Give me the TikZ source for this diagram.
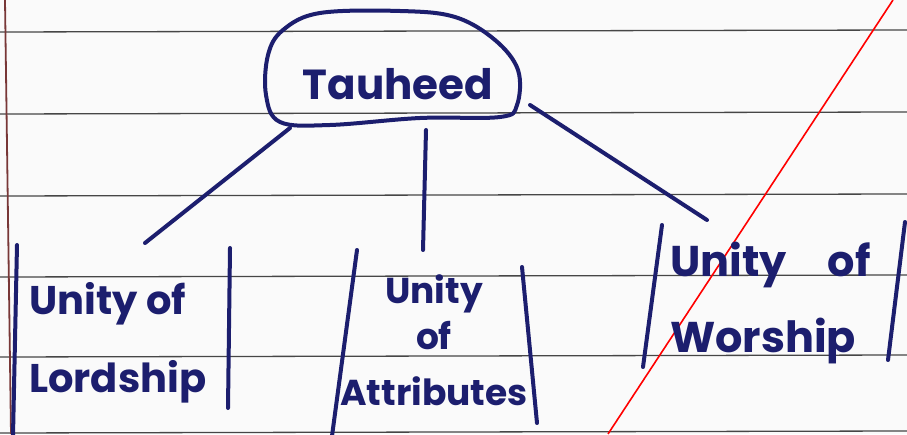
\documentclass[tikz,border=0pt]{standalone}
\usepackage{fontspec}
\setmainfont{Poppins}
\usetikzlibrary{positioning}
\definecolor{ink}{RGB}{28,30,110}
\definecolor{rule}{RGB}{70,70,70}
\definecolor{margin}{RGB}{120,55,55}
\definecolor{paper}{RGB}{250,250,250}
\tikzset{
  pen/.style={draw=ink, line width=4pt, line cap=round, line join=round},
  ruling/.style={draw=rule, line width=1.3pt},
  hand/.style={text=ink, inner sep=0pt, font=\bfseries},
}

\begin{document}
\begin{tikzpicture}[x=1pt,y=1pt]
  \fill[paper] (0,0) rectangle (907,434);
  \useasboundingbox (0,0) rectangle (907,434);
  \foreach \y/\z in {402/404, 320/322, 238/240, 157/159, 77/79, 1/3}
    \draw[ruling] (0,\y) -- (907,\z);
  \draw[margin, line width=1.8pt] (5,434) -- (11,0);
  \draw[red, line width=1.6pt] (608,0) -- (893,434);

  \node[hand, font=\bfseries\fontsize{42}{42}\selectfont] (tauheed) at (398,350) {Tauheed};
  \draw[pen] plot[smooth cycle, tension=0.6] coordinates {(283,404) (320,421) (400,423)
    (455,417) (495,394) (518,364) (517,329) (500,317) (420,316) (330,309) (280,312)
    (266,339) (268,379)};

  \node[hand, align=left, anchor=north west, font=\bfseries\fontsize{40}{78}\selectfont]
        (lordship) at (29,152) {Unity of\\Lordship};
  \node[hand, align=center, anchor=north, font=\bfseries\fontsize{36}{46}\selectfont]
        (attributes) at (434,160) {Unity\\of\\[10pt]Attributes};
  \node[hand, align=left, anchor=north west, font=\bfseries\fontsize{43}{76}\selectfont]
        (worship) at (670,192) {Unity\hspace{0.95em}of\\Worship};

  \coordinate (lordtop) at (145,191);
  \coordinate (attrtop) at (423,184);
  \coordinate (worstop) at (707,214);
  \draw[pen] ([shift={(-108,-44)}]tauheed.center) -- (lordtop);
  \draw[pen] ([shift={(28,-46)}]tauheed.center) -- (attrtop);
  \draw[pen] ([shift={(132,-21)}]tauheed.center) -- (worstop);

  \draw[pen] (17,189) -- (13,-2);
  \draw[pen] (230,186) -- (228,26);
  \draw[pen] (357,184) -- (332,-2);
  \draw[pen] (522,167) -- (537,11);
  \draw[pen] (662,209) -- (643,67);
  \draw[pen] (905,212) -- (888,74);
\end{tikzpicture}
\end{document}
